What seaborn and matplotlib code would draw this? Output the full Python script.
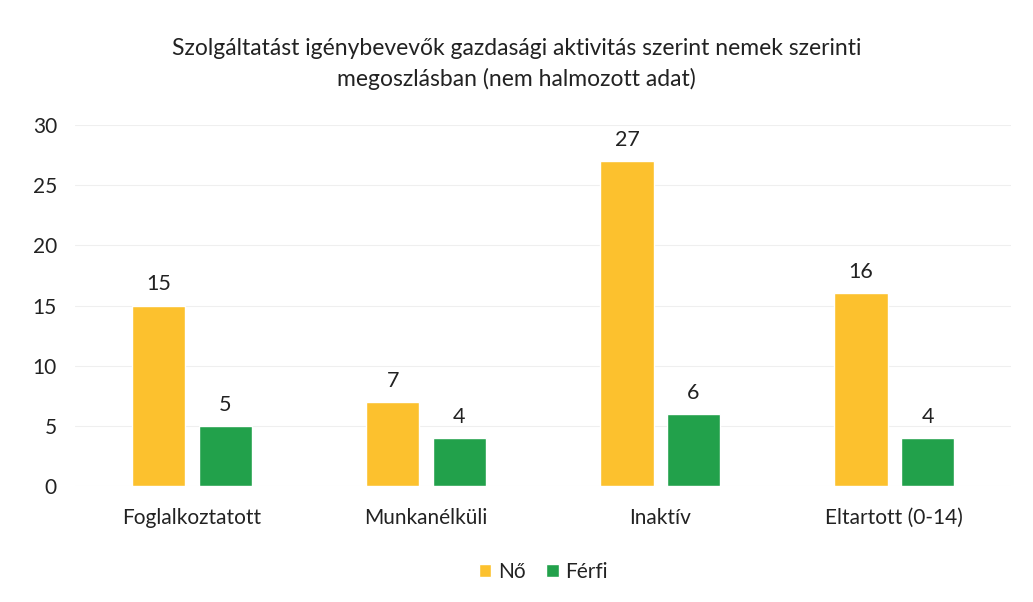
import matplotlib
matplotlib.use("Agg")
import matplotlib.pyplot as plt
import seaborn as sns
import pandas as pd

categories = ["Foglalkoztatott", "Munkanélküli", "Inaktív", "Eltartott (0-14)"]
no_values = [15, 7, 27, 16]
ferfi_values = [5, 4, 6, 4]
series_names = ["Nő", "Férfi"]
yticks = [0, 5, 10, 15, 20, 25, 30]
title = "Szolgáltatást igénybevevők gazdasági aktivitás szerint nemek szerinti\nmegoszlásban (nem halmozott adat)"

df = pd.DataFrame({
    "kategoria": categories * 2,
    "ertek": no_values + ferfi_values,
    "nem": [series_names[0]] * len(categories) + [series_names[1]] * len(categories),
})

sns.set_theme(style="white")
plt.rcParams["font.family"] = ["Lato", "DejaVu Sans"]

fig = plt.figure(figsize=(10.33, 6.02), dpi=100)
ax = fig.add_axes([0.0726, 0.193, 0.9064, 0.599])

palette = {"Nő": "#FCC12E", "Férfi": "#22A14B"}
sns.barplot(data=df, x="kategoria", y="ertek", hue="nem", palette=palette,
            width=0.568, gap=0.2, ax=ax, saturation=1, legend=True)

for cont in ax.containers:
    ax.bar_label(cont, fmt="%d", padding=8, fontsize=15.5, color="#222222")

ax.set_ylim(0, 30)
ax.set_yticks(yticks)
ax.set_xlim(-0.5, len(categories) - 0.5)
ax.yaxis.grid(True, color="#efefef", linewidth=0.8)
ax.set_axisbelow(True)
for s in ax.spines.values():
    s.set_visible(False)
ax.tick_params(axis="y", length=0, pad=13, labelsize=15, labelcolor="#222222")
ax.tick_params(axis="x", length=0, pad=16, labelsize=15, labelcolor="#222222")
ax.set_xlabel("")
ax.set_ylabel("")

fig.text(0.5, 0.894, title, ha="center", va="center", fontsize=16.5,
         color="#222222", linespacing=1.5)

handles, labels = ax.get_legend_handles_labels()
ax.legend(handles, labels, loc="center", bbox_to_anchor=(0.5, -0.238),
          ncol=2, frameon=False, fontsize=15, handlelength=0.6, handleheight=0.6,
          handletextpad=0.3, columnspacing=1.0, labelcolor="#222222")

fig.savefig("out.png", dpi=100, facecolor="white")
